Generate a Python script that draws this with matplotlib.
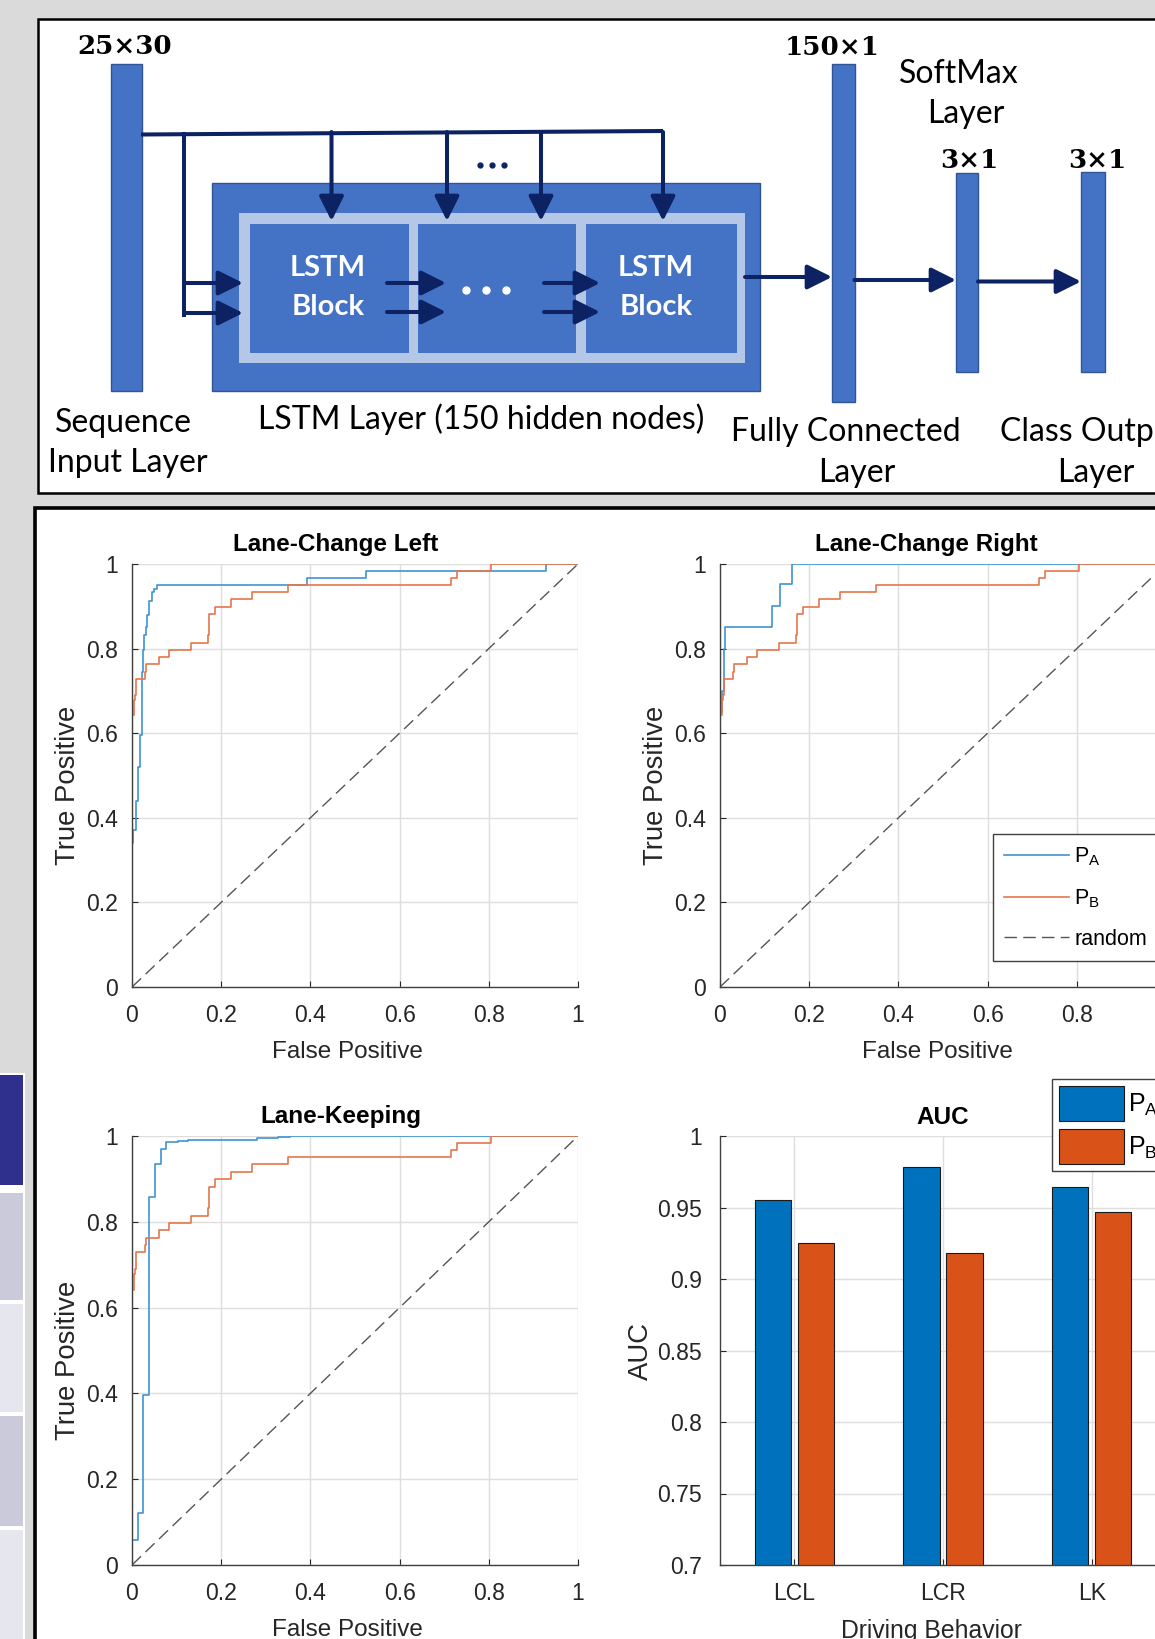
import numpy as np
import matplotlib.pyplot as plt
from matplotlib.patches import Rectangle
from matplotlib.ticker import FormatStrFormatter

W, H = 1155, 1639

# ROC curves (tops of each step)
pa_lcl_fpr = [0, 0, 0.003, 0.009, 0.014, 0.018, 0.022, 0.025, 0.028, 0.031, 0.034, 0.037,
              0.045, 0.050, 0.055, 0.392, 0.525, 0.929, 1.0]
pa_lcl_tpr = [0, 0.34, 0.37, 0.44, 0.52, 0.595, 0.745, 0.796, 0.832, 0.851, 0.88, 0.913,
              0.933, 0.942, 0.950, 0.967, 0.983, 1.0, 1.0]

pa_lcr_fpr = [0, 0, 0.005, 0.010, 0.012, 0.117, 0.134, 0.162, 1.0]
pa_lcr_tpr = [0, 0.65, 0.70, 0.80, 0.851, 0.901, 0.952, 1.0, 1.0]

pa_lk_fpr = [0, 0, 0.0127, 0.024, 0.038, 0.0516, 0.064, 0.076, 0.104, 0.126, 0.28, 0.328, 0.354, 1.0]
pa_lk_tpr = [0, 0.058, 0.122, 0.396, 0.858, 0.934, 0.970, 0.986, 0.988, 0.991, 0.995, 0.997, 1.0, 1.0]

# P_B curve looks the same in all three panels
pb_fpr = [0, 0, 0.0045, 0.007, 0.009, 0.029, 0.032, 0.060, 0.084, 0.132, 0.170, 0.173,
          0.186, 0.222, 0.268, 0.349, 0.715, 0.729, 0.805, 1.0]
pb_tpr = [0, 0.642, 0.678, 0.69, 0.729, 0.745, 0.763, 0.780, 0.797, 0.814, 0.832, 0.881,
          0.899, 0.917, 0.934, 0.950, 0.967, 0.983, 1.0, 1.0]

behaviors = ['LCL', 'LCR', 'LK']
auc_pa = [0.955, 0.978, 0.964]
auc_pb = [0.925, 0.918, 0.947]

c_line_a = '#3f93d3'
c_line_b = '#e6764c'
c_bar_a = '#0072BD'
c_bar_b = '#D95319'
blue = '#4472C4'
blue_edge = '#2F5597'
light = '#B4C7E7'
navy = '#0C2262'

plt.rcParams['font.family'] = 'Liberation Sans'

fig = plt.figure(figsize=(W / 100, H / 100), dpi=100)
fig.patch.set_facecolor('#dadada')

# pixel canvas for the panels and the network diagram
bg = fig.add_axes([0, 0, 1, 1], zorder=0)
bg.set_xlim(0, W)
bg.set_ylim(H, 0)
bg.axis('off')

bg.add_patch(Rectangle((38, 19), W, 474, facecolor='white', edgecolor='black', lw=1.8))
bg.add_patch(Rectangle((35, 508), W, H, facecolor='white', edgecolor='black', lw=2.6))

# strip on the left edge
bg.add_patch(Rectangle((0, 1073), 25, H, facecolor='white', edgecolor='none'))
for y0, y1, col in [(1075, 1185, '#2f2f8e'), (1193, 1300, '#cacadb'), (1304, 1412, '#e6e6ee'),
                    (1416, 1526, '#cacadb'), (1530, H, '#e6e6ee')]:
    bg.add_patch(Rectangle((0, y0), 22.5, y1 - y0, facecolor=col, edgecolor='none'))


def rect(x0, y0, x1, y1, fc, ec='none', lw=0):
    bg.add_patch(Rectangle((x0, y0), x1 - x0, y1 - y0, facecolor=fc, edgecolor=ec, lw=lw))


def arrow(x0, y0, x1, y1):
    bg.annotate('', xy=(x1, y1), xytext=(x0, y0),
                arrowprops=dict(arrowstyle='-|>,head_length=1.5,head_width=0.75', lw=2.9,
                                color=navy, shrinkA=0, shrinkB=0))


# layers
rect(110.5, 64, 141.5, 391, blue, blue_edge, 1)
rect(212, 183, 760, 391, blue, blue_edge, 1)
rect(239, 213, 745, 363, light)
for x0, x1 in [(250, 409), (418, 576), (586, 737)]:
    rect(x0, 224, x1, 353, blue)
rect(832, 64, 854.5, 402, blue, blue_edge, 1)
rect(956, 173, 978, 372, blue, blue_edge, 1)
rect(1081, 172, 1105, 372, blue, blue_edge, 1)

# input lines and arrows
bg.plot([141, 663], [134.5, 131], color=navy, lw=2.9, solid_capstyle='butt')
bg.plot([184, 184], [134, 314.5], color=navy, lw=2.9, solid_capstyle='projecting')
arrow(184, 283, 243, 283)
arrow(184, 313, 243, 313)
for x in [331.5, 447, 541, 663]:
    arrow(x, 132, x, 221)
for y in [283, 312]:
    arrow(387, y, 446, y)
    arrow(544, y, 600, y)
arrow(745, 277, 832, 277)
arrow(854.5, 280, 956, 280)
arrow(978, 281.5, 1081, 281.5)

bg.plot([480, 492, 504], [165, 165, 165], 'o', color=navy, ms=3.5)
bg.plot([466, 486, 506], [290, 290, 290], 'o', color='white', ms=5)

bkw = dict(family='Lato', fontsize=21, ha='center', va='baseline', color='white', fontweight='bold')
for x in [328, 656]:
    bg.text(x, 276.5, 'LSTM', **bkw)
    bg.text(x, 315, 'Block', **bkw)

tkw = dict(family='Lato', fontsize=23, ha='center', va='baseline')
bg.text(123, 432, 'Sequence', **tkw)
bg.text(128, 472, 'Input Layer', **tkw)
bg.text(481, 429, 'LSTM Layer (150 hidden nodes)', **tkw)
bg.text(846, 441, 'Fully Connected', **tkw)
bg.text(856.5, 482, 'Layer', **tkw)
bg.text(1000, 441, 'Class Output', **dict(tkw, ha='left'))
bg.text(1096, 482, 'Layer', **tkw)
bg.text(959, 83, 'SoftMax', **tkw)
bg.text(966, 123, 'Layer', **tkw)

dkw = dict(family='DejaVu Serif', fontweight='bold', fontsize=18.8, ha='center', va='baseline')
bg.text(124.5, 53.5, '25×30', **dkw)
bg.text(832, 55, '150×1', **dkw)
bg.text(969, 168, '3×1', **dkw)
bg.text(1097.5, 168, '3×1', **dkw)


def px_axes(l, t, r, b):
    return fig.add_axes([l / W, 1 - b / H, (r - l) / W, (b - t) / H], zorder=2)


def style(ax, ypad=10):
    ax.set_facecolor('white')
    for s in ['top', 'right']:
        ax.spines[s].set_visible(False)
    for s in ['left', 'bottom']:
        ax.spines[s].set_color('#404040')
        ax.spines[s].set_linewidth(1.0)
    ax.grid(True, color='#dedede', lw=1.0)
    ax.set_axisbelow(True)
    ax.tick_params(direction='in', length=4, width=0.8, color='#262626',
                   labelcolor='#262626', labelsize=16.6)
    ax.tick_params(axis='x', pad=12.5)
    ax.tick_params(axis='y', pad=ypad)
    ax.xaxis.set_major_formatter(FormatStrFormatter('%g'))
    ax.yaxis.set_major_formatter(FormatStrFormatter('%g'))


panels = [
    ('Lane-Change Left', (132, 564, 578, 987), pa_lcl_fpr, pa_lcl_tpr, 0.457, 0.482),
    ('Lane-Change Right', (720, 564, 1166, 987), pa_lcr_fpr, pa_lcr_tpr, 0.463, 0.488),
    ('Lane-Keeping', (132, 1136, 578, 1565), pa_lk_fpr, pa_lk_tpr, 0.468, 0.482),
]
roc_axes = []
for title, box, fa, ta, tx, lx in panels:
    ax = px_axes(*box)
    style(ax)
    la, = ax.plot(fa, ta, drawstyle='steps-post', color=c_line_a, lw=1.2)
    lb, = ax.plot(pb_fpr, pb_tpr, drawstyle='steps-post', color=c_line_b, lw=1.2)
    lr, = ax.plot([0, 1], [0, 1], '--', color='#555555', lw=1.0, dashes=(9, 4.5))
    ax.set_xlim(0, 1)
    ax.set_ylim(0, 1)
    ax.set_xticks(np.linspace(0, 1, 6))
    ax.set_yticks(np.linspace(0, 1, 6))
    ax.set_title(title, fontsize=17.5, fontweight='bold', pad=9, x=tx)
    ax.set_xlabel('False Positive', fontsize=17.5, color='#262626', labelpad=10)
    ax.xaxis.label.set_x(lx)
    ax.set_ylabel('True Positive', fontsize=19.8, color='#262626', labelpad=4)
    ax.yaxis.label.set_y(0.477)
    roc_axes.append((ax, la, lb, lr))

ax, la, lb, lr = roc_axes[1]
leg = ax.legend([la, lb, lr], [r'$\mathregular{P_A}$', r'$\mathregular{P_B}$', 'random'],
                loc='lower left', bbox_to_anchor=(0.613, 0.062), borderaxespad=0,
                fontsize=15.5, handlelength=3.0, handletextpad=0.25, labelspacing=0.9,
                borderpad=0.5, fancybox=False, framealpha=1, edgecolor='#404040')
leg.get_frame().set_linewidth(1.0)

# AUC bars
ax = px_axes(720, 1136, 1166, 1565)
style(ax, ypad=13)
x = np.arange(1, len(behaviors) + 1)
ba = ax.bar(x - 0.145, auc_pa, width=0.245, color=c_bar_a, edgecolor='#1a1a1a', lw=0.8)
bb = ax.bar(x + 0.145, auc_pb, width=0.245, color=c_bar_b, edgecolor='#1a1a1a', lw=0.8)
ax.set_xlim(0.5, 3.5)
ax.set_ylim(0.7, 1)
ax.set_xticks(x)
ax.set_xticklabels(behaviors)
ax.set_yticks(np.arange(0.7, 1.001, 0.05))
ax.set_title('AUC', fontsize=17.5, fontweight='bold', pad=9)
ax.set_xlabel('Driving Behavior', fontsize=17.8, color='#262626', labelpad=10)
ax.xaxis.label.set_x(0.474)
ax.set_ylabel('AUC', fontsize=19.8, color='#262626', labelpad=2)
leg = ax.legend([ba, bb], [r'$\mathregular{P_A}$', r'$\mathregular{P_B}$'],
                loc='upper left', bbox_to_anchor=(0.744, 1.134), borderaxespad=0,
                fontsize=18, handlelength=2.6, handleheight=1.75, handletextpad=0.15,
                labelspacing=0.35, borderpad=0.3, fancybox=False, framealpha=1,
                edgecolor='#404040')
leg.get_frame().set_linewidth(1.0)

fig.savefig('out.png', dpi=100, facecolor=fig.get_facecolor())
